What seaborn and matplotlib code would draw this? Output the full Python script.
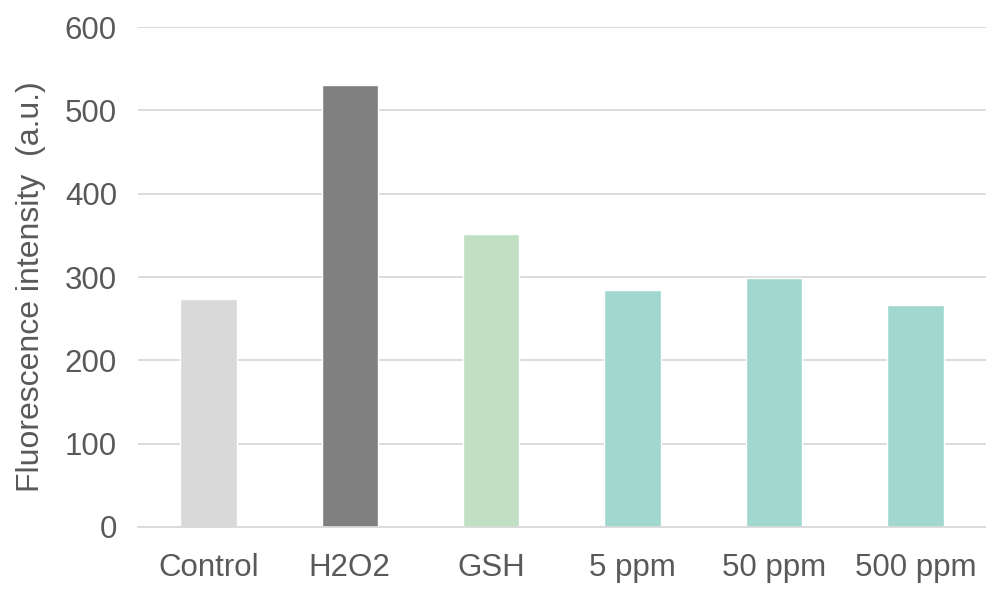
import matplotlib
matplotlib.use("Agg")
import matplotlib.pyplot as plt
import seaborn as sns
import pandas as pd

categories = ["Control", "H2O2", "GSH", "5 ppm", "50 ppm", "500 ppm"]
values = [274, 530, 352, 284, 299, 266]
colors = ["#d9d9d9", "#808080", "#c0dfc3", "#a0d8d0", "#a0d8d0", "#a0d8d0"]
y_ticks = [0, 100, 200, 300, 400, 500, 600]

sns.set_theme(style="white")
plt.rcParams["font.family"] = ["Liberation Sans", "DejaVu Sans"]

df = pd.DataFrame({"group": categories, "value": values})

fig = plt.figure(figsize=(9.86, 5.9), dpi=100)
ax = fig.add_axes([0.1397, 0.1068, 0.8603, 0.8474])

sns.barplot(data=df, x="group", y="value", hue="group",
            palette=dict(zip(categories, colors)), width=0.4,
            legend=False, ax=ax, saturation=1)

ax.set_ylim(0, 600)
ax.set_xlim(-0.5, len(categories) - 0.5)
ax.set_yticks(y_ticks)
ax.yaxis.grid(True, color="#d9d9d9", linewidth=1.3)
ax.set_axisbelow(True)
for s in ["top", "right", "left"]:
    ax.spines[s].set_visible(False)
ax.spines["bottom"].set_color("#d9d9d9")
ax.spines["bottom"].set_linewidth(1.3)

ax.tick_params(axis="both", length=0, labelsize=22.5, labelcolor="#595959")
ax.tick_params(axis="y", pad=15)
ax.tick_params(axis="x", pad=19)
ax.set_xlabel("")
ax.set_ylabel("Fluorescence intensity  (a.u.)", fontsize=23, color="#595959")
ax.yaxis.set_label_coords(-0.108, 0.481)

fig.savefig("out.png", dpi=100)
